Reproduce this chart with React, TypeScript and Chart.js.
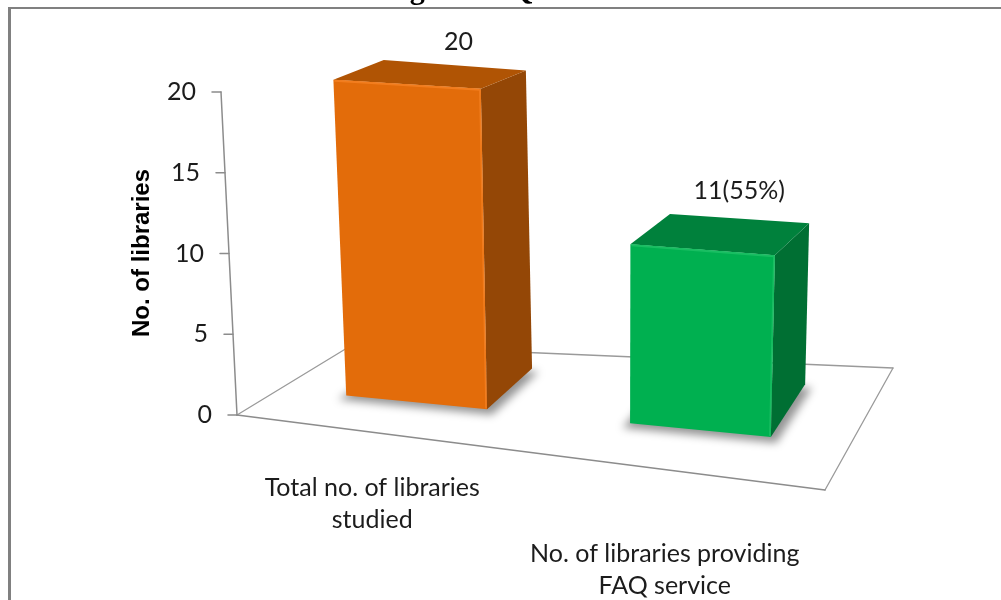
import React, { useEffect, useRef } from "react";
import { Chart, registerables } from "chart.js";

Chart.register(...registerables);

// ---------- data ----------
const categories: string[][] = [
  ["Total no. of libraries", "studied"],
  ["No. of libraries providing", "FAQ service"],
];
const values: number[] = [20, 11];
const valueLabels: string[] = ["20", "11(55%)"];
const yTicks: number[] = [0, 5, 10, 15, 20];
const yAxisTitle = "No. of libraries";
const chartTitle = "Fig. 4: FAQ Service";

// ---------- styles ----------
const frontColors = ["#E36C0A", "#00B050"];
const topColors = ["#B05404", "#00813C"];
const sideColors = ["#944706", "#006F33"];
const bevelColors = ["#F27D1E", "#19BE62"];

const W = 1001;
const H = 600;

// 3D frame geometry (floor plane of the plot box)
const FRAME = {
  left: 237,
  width: 588,
  bottom: 415,
  frontDrop: 75,
  backLeft: { dx: 115, dy: -70 },
  backRight: { dx: 68, dy: -122 },
};
const BAR_DEPTH = [0.37, 0.83];

type P = { x: number; y: number };
const lerp = (a: P, b: P, t: number): P => ({ x: a.x + (b.x - a.x) * t, y: a.y + (b.y - a.y) * t });

function floorPt(u: number, w: number): P {
  const A = { x: FRAME.left, y: FRAME.bottom };
  const B = { x: FRAME.left + FRAME.width, y: FRAME.bottom + FRAME.frontDrop };
  const C = { x: A.x + FRAME.backLeft.dx, y: A.y + FRAME.backLeft.dy };
  const D = { x: B.x + FRAME.backRight.dx, y: B.y + FRAME.backRight.dy };
  return lerp(lerp(A, B, u), lerp(C, D, u), w);
}
function upVec(u: number, w: number): P {
  return { x: -16 + 27 * u, y: -323 - 44 * u + (25.4 + 66 * u) * w };
}
function proj(u: number, v: number, w: number): P {
  const f = floorPt(u, w);
  const V = upVec(u, w);
  return { x: f.x + v * V.x, y: f.y + v * V.y };
}
const uOf = (px: number) => (px - FRAME.left) / FRAME.width;

function poly(ctx: CanvasRenderingContext2D, pts: P[], fill: string) {
  ctx.beginPath();
  ctx.moveTo(pts[0].x, pts[0].y);
  for (let i = 1; i < pts.length; i++) ctx.lineTo(pts[i].x, pts[i].y);
  ctx.closePath();
  ctx.fillStyle = fill;
  ctx.fill();
}
function line(ctx: CanvasRenderingContext2D, a: P, b: P, color: string, width: number) {
  ctx.beginPath();
  ctx.moveTo(a.x, a.y);
  ctx.lineTo(b.x, b.y);
  ctx.strokeStyle = color;
  ctx.lineWidth = width;
  ctx.stroke();
}

const bar3dPlugin = {
  id: "bar3d",
  afterDraw(chart: any) {
    const ctx: CanvasRenderingContext2D = chart.ctx;
    const yScale = chart.scales.y;
    const y0 = yScale.getPixelForValue(0);
    const yTop = yScale.getPixelForValue(yScale.max);
    const vOfPx = (py: number) => (y0 - py) / (y0 - yTop);

    ctx.save();

    // frame border
    ctx.fillStyle = "#808080";
    ctx.fillRect(8, 7, 3, H - 7);
    ctx.fillRect(8, 7, W - 8, 2);

    // clipped title
    ctx.fillStyle = "#000";
    ctx.font = 'bold 30px "Liberation Serif"';
    ctx.textAlign = "center";
    ctx.textBaseline = "alphabetic";
    ctx.fillText(chartTitle, 508.6, -1);

    // floor
    const fl = floorPt(0, 0), fr = floorPt(1, 0), bl = floorPt(0, 1), br = floorPt(1, 1);
    ctx.lineCap = "round";
    line(ctx, fl, bl, "#9a9a9a", 1.3);
    line(ctx, bl, br, "#9a9a9a", 1.3);
    line(ctx, br, fr, "#9a9a9a", 1.3);
    line(ctx, fl, fr, "#8c8c8c", 1.6);

    // y axis
    const axBottom = proj(0, 0, 0);
    const axTop = proj(0, 1, 0);
    line(ctx, axBottom, axTop, "#8c8c8c", 1.5);
    ctx.font = '25px "Lato"';
    ctx.textAlign = "right";
    ctx.textBaseline = "middle";
    yTicks.forEach((t) => {
      const p = proj(0, vOfPx(yScale.getPixelForValue(t)), 0);
      line(ctx, { x: p.x - 9, y: p.y }, p, "#8c8c8c", 1.5);
      ctx.fillStyle = "#1c1c1c";
      ctx.fillText(String(t), p.x - 25, p.y);
    });

    // y axis title
    ctx.save();
    ctx.translate(142, 253);
    ctx.rotate(-Math.PI / 2);
    ctx.font = 'bold 24px "Liberation Sans"';
    ctx.textAlign = "center";
    ctx.textBaseline = "middle";
    ctx.fillStyle = "#000";
    ctx.fillText(yAxisTitle, 0, 0);
    ctx.restore();

    // bars
    const meta = chart.getDatasetMeta(0);
    const [w1, w2] = BAR_DEPTH;
    meta.data.forEach((el: any, i: number) => {
      const { x, y, base, width } = el.getProps(["x", "y", "base", "width"], true);
      const u1 = uOf(x - width / 2);
      const u2 = uOf(x + width / 2);
      const v = (base - y) / (y0 - yTop);

      // soft shadow
      ctx.save();
      ctx.filter = "blur(4px)";
      const s = [proj(u1 - 0.01, 0, w1 - 0.02), proj(u2 + 0.012, 0, w1 - 0.02), proj(u2 + 0.012, 0, w2), proj(u1 - 0.01, 0, w2)].map((p) => ({ x: p.x, y: p.y + 3 }));
      poly(ctx, s, "rgba(0,0,0,0.42)");
      ctx.restore();

      const fbl = proj(u1, 0, w1), fbr = proj(u2, 0, w1), ftl = proj(u1, v, w1), ftr = proj(u2, v, w1);
      const bbr = proj(u2, 0, w2), btl = proj(u1, v, w2), btr = proj(u2, v, w2);

      poly(ctx, [fbr, bbr, btr, ftr], sideColors[i]);
      poly(ctx, [ftl, ftr, btr, btl], topColors[i]);
      poly(ctx, [fbl, fbr, ftr, ftl], frontColors[i]);
      ctx.lineCap = "butt";
      line(ctx, { x: ftl.x + 1, y: ftl.y + 1 }, { x: ftr.x - 1, y: ftr.y + 1 }, bevelColors[i], 2);
      line(ctx, { x: ftr.x - 1, y: ftr.y + 1 }, { x: fbr.x - 1, y: fbr.y - 1 }, bevelColors[i], 1.5);

      // value label
      const uc = uOf(x);
      const lp = proj(uc, v, 1);
      ctx.font = '25px "Lato"';
      ctx.textAlign = "center";
      ctx.textBaseline = "middle";
      ctx.fillStyle = "#1c1c1c";
      ctx.fillText(valueLabels[i], lp.x - 14, lp.y - 16);

      // category label
      const cx = proj(uc, 0, 0).x - 6;
      const baseY = FRAME.bottom + 50.75 + 0.2249 * (cx - FRAME.left);
      ctx.font = '25px "Lato"';
      ctx.textBaseline = "alphabetic";
      const lines = categories[i];
      lines.forEach((ln, k) => ctx.fillText(ln, cx, baseY + k * 32));
    });

    ctx.restore();
  },
};

export default function App() {
  const ref = useRef<HTMLCanvasElement | null>(null);
  useEffect(() => {
    if (!ref.current) return;
    const chart = new Chart(ref.current, {
      type: "bar",
      data: {
        labels: categories.map((c) => c.join(" ")),
        datasets: [
          {
            data: values,
            backgroundColor: "rgba(0,0,0,0)",
            borderWidth: 0,
            categoryPercentage: 0.8,
            barPercentage: 0.62,
          },
        ],
      },
      options: {
        responsive: false,
        animation: false,
        devicePixelRatio: 1,
        events: [],
        layout: { padding: { left: 232, right: 184, top: 92, bottom: 185 } },
        scales: {
          x: { display: false },
          y: { display: false, min: 0, max: 20, ticks: { stepSize: 5 } },
        },
        plugins: {
          legend: { display: false },
          tooltip: { enabled: false },
          title: { display: false },
        },
      },
      plugins: [bar3dPlugin],
    } as any);
    return () => chart.destroy();
  }, []);
  return (
    <div style={{ position: "absolute", left: 0, top: 0, width: W, height: H, background: "#fff" }}>
      <canvas ref={ref} width={W} height={H} style={{ width: W, height: H, display: "block" }} />
    </div>
  );
}
